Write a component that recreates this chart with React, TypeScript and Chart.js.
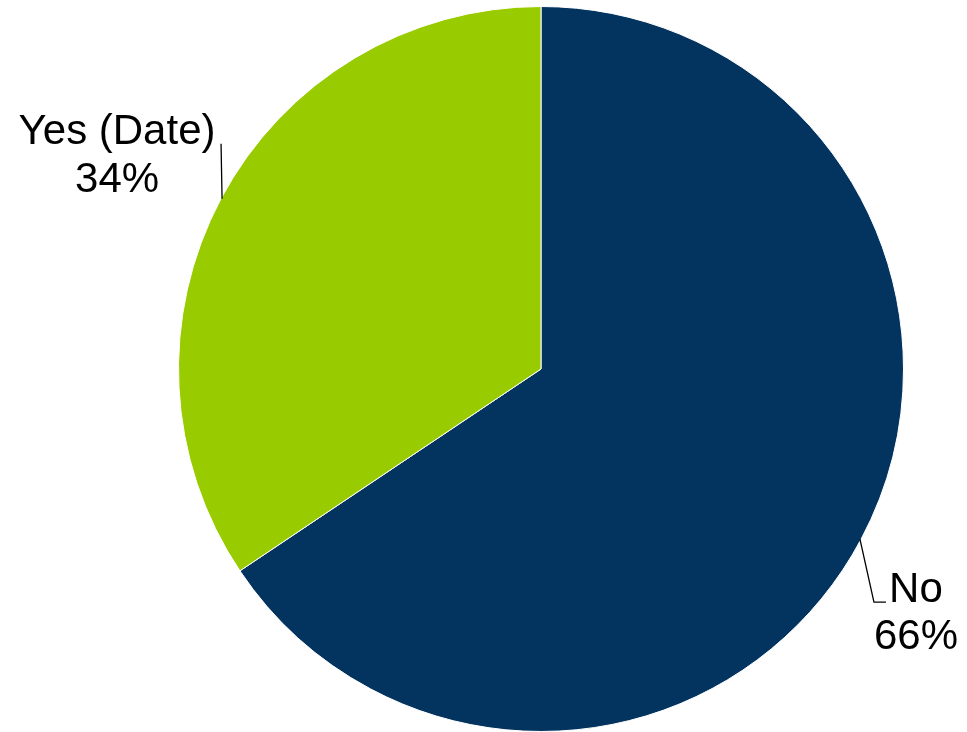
import React, { useEffect, useRef } from "react";
import { Chart, registerables } from "chart.js";

Chart.register(...registerables);

const categories = ["No", "Yes (Date)"];
const values = [65.6, 34.4];
const percentLabels = ["66%", "34%"];
const colors = ["#03335F", "#99CC00"];

const labelPlugin = {
  id: "pieLabels",
  afterDatasetsDraw(chart: any) {
    const ctx = chart.ctx;
    const meta = chart.getDatasetMeta(0);
    ctx.save();
    ctx.font = "42px 'Liberation Sans', Arial, sans-serif";
    ctx.fillStyle = "#000";
    ctx.strokeStyle = "#000";
    ctx.lineWidth = 1.3;
    ctx.textAlign = "center";
    ctx.textBaseline = "alphabetic";
    meta.data.forEach((arc: any, i: number) => {
      const { x, y, startAngle, endAngle, outerRadius } = arc.getProps(
        ["x", "y", "startAngle", "endAngle", "outerRadius"],
        true
      );
      const mid = (startAngle + endAngle) / 2;
      const ax = x + Math.cos(mid) * (outerRadius - 1);
      const ay = y + Math.sin(mid) * (outerRadius - 1);
      if (i === 0) {
        const ex = ax + 14;
        const ey = ay + 63;
        ctx.beginPath();
        ctx.moveTo(ax, ay);
        ctx.lineTo(ex, ey);
        ctx.lineTo(ex + 12, ey);
        ctx.stroke();
        ctx.fillText(categories[i], ex + 42, ey);
        ctx.fillText(percentLabels[i], ex + 42, ey + 47);
      } else {
        const ex = ax - 1;
        const ey = ay - 55;
        ctx.beginPath();
        ctx.moveTo(ax, ay);
        ctx.lineTo(ex, ey);
        ctx.stroke();
        ctx.fillText(categories[i], ex - 104, ey);
        ctx.fillText(percentLabels[i], ex - 104, ey + 48);
      }
    });
    ctx.restore();
  },
};

export default function App() {
  const ref = useRef<HTMLCanvasElement>(null);
  useEffect(() => {
    if (!ref.current) return;
    const chart = new Chart(ref.current, {
      type: "pie",
      data: {
        labels: categories,
        datasets: [
          {
            data: values,
            backgroundColor: colors,
            borderColor: "#ffffff",
            borderWidth: 1,
          },
        ],
      },
      options: {
        animation: false,
        responsive: false,
        layout: { padding: { left: 178, right: 63, top: 6, bottom: 0 } },
        plugins: {
          legend: { display: false },
          tooltip: { enabled: false },
        },
      },
      plugins: [labelPlugin],
    });
    return () => chart.destroy();
  }, []);
  return (
    <div style={{ position: "fixed", left: 0, top: 0, width: 967, height: 732, background: "#fff" }}>
      <canvas ref={ref} width={967} height={732} />
    </div>
  );
}
